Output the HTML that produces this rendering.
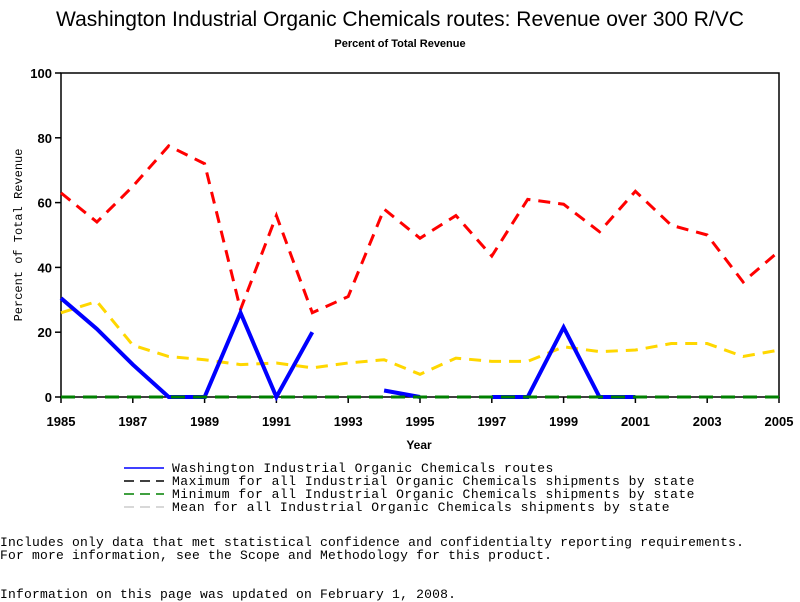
<!DOCTYPE html>
<html><head><meta charset="utf-8"><style>
body{margin:0;width:800px;height:600px;background:#fff;overflow:hidden;position:relative;font-family:"Liberation Sans",sans-serif}
.t{position:absolute;white-space:pre;color:#000}
.m{font-family:"Liberation Mono",monospace;font-size:13px;letter-spacing:0.2px;line-height:13px}
</style></head><body>
<div class="t" style="left:0;top:8px;width:800px;text-align:center;font-size:21px">Washington Industrial Organic Chemicals routes: Revenue over 300 R/VC</div>
<div class="t" style="left:0;top:38px;width:800px;text-align:center;font-size:11px;font-weight:bold">Percent of Total Revenue</div>
<svg id="c" width="800" height="600" style="position:absolute;left:0;top:0"></svg>
<div class="t m" style="left:0;top:536px">Includes only data that met statistical confidence and confidentialty reporting requirements.
For more information, see the Scope and Methodology for this product.</div>
<div class="t m" style="left:0;top:588px">Information on this page was updated on February 1, 2008.</div>
<script>
const years=[1985,1986,1987,1988,1989,1990,1991,1992,1993,1994,1995,1996,1997,1998,1999,2000,2001,2002,2003,2004,2005];
const maxVals=[63,54,65,77.5,72,27,56,26,31,58,49,56,43.5,61,59.5,51,63.5,53,50,35.5,45];
const meanVals=[26,29.5,16,12.5,11.5,10,10.5,9,10.5,11.5,7,12,11,11,15.5,14,14.5,16.5,16.5,12.5,14.5];
const waVals=[30.5,21,10,0,0,26,0,20,null,2,0,null,0,0,21.5,0,0,null,null,null,null];
const minVals=[0,0,0,0,0,0,0,0,0,0,0,0,0,0,0,0,0,0,0,0,0];
const yTicks=[0,20,40,60,80,100];
const xTicks=[1985,1987,1989,1991,1993,1995,1997,1999,2001,2003,2005];
const legendLabels=["Washington Industrial Organic Chemicals routes","Maximum for all Industrial Organic Chemicals shipments by state","Minimum for all Industrial Organic Chemicals shipments by state","Mean for all Industrial Organic Chemicals shipments by state"];
const X0=61,X1=779,Y0=397,Y1=73;
const sx=v=>X0+(v-1985)*(X1-X0)/20, sy=v=>Y0-v*(Y0-Y1)/100;
const svg=document.getElementById('c');const NS='http://www.w3.org/2000/svg';
function mk(t,a,p){const e=document.createElementNS(NS,t);for(const k in a)e.setAttribute(k,a[k]);(p||svg).appendChild(e);return e;}
let e=mk('rect',{x:X0,y:Y1,width:X1-X0,height:Y0-Y1,fill:'none',stroke:'#000','stroke-width':1.5});


yTicks.forEach(v=>{mk('line',{x1:X0-6,x2:X0,y1:sy(v),y2:sy(v),stroke:'#000','stroke-width':1.5});
 const t=mk('text',{x:X0-9,y:sy(v)+5,'text-anchor':'end','font-size':13,'font-weight':'bold','font-family':'Liberation Sans,sans-serif'});t.textContent=v;
 
 });
xTicks.forEach(v=>{mk('line',{x1:sx(v),x2:sx(v),y1:Y0,y2:Y0+6,stroke:'#000','stroke-width':1.5});
 const t=mk('text',{x:sx(v),y:Y0+29,'text-anchor':'middle','font-size':13,'font-weight':'bold','font-family':'Liberation Sans,sans-serif'});t.textContent=v;
 
 });
let t=mk('text',{x:419,y:449,'text-anchor':'middle','font-size':12,'font-weight':'bold','font-family':'Liberation Sans,sans-serif'});t.textContent='Year';


t=mk('text',{x:0,y:0,transform:'translate(22,235) rotate(-90)','text-anchor':'middle','font-size':12,'font-family':'Liberation Mono,monospace'});t.textContent='Percent of Total Revenue';


function series(vals,color,dash,w,name){let d='',pen=false;vals.forEach((v,i)=>{if(v==null){pen=false;return;}d+=(pen?'L':'M')+sx(years[i])+' '+sy(v)+' ';pen=true;});
 const p=mk('path',{d:d,fill:'none',stroke:color,'stroke-width':w,'stroke-dasharray':dash});
 
 }
series(meanVals,'#ffd700','12 8',3,'mean-line');
series(maxVals,'#ff0000','12 8',3,'max-line');
series(waVals,'#0000ff','none',4,'washington-line');
series(minVals,'#008000','14 8',3,'min-line');
const lc=['#0000ff','#000','#008000','#ccc'],ld=['none','10 6','10 6','10 6'];
legendLabels.forEach((s,i)=>{const y=468+i*13;
 mk('line',{x1:124,x2:164,y1:y,y2:y,stroke:lc[i],'stroke-width':1.5,'stroke-dasharray':ld[i]});
 const tt=mk('text',{x:172,y:y+4,'font-size':13,'letter-spacing':'0.5','font-family':'Liberation Mono,monospace'});tt.textContent=s;
 
 });
</script>
</body></html>
